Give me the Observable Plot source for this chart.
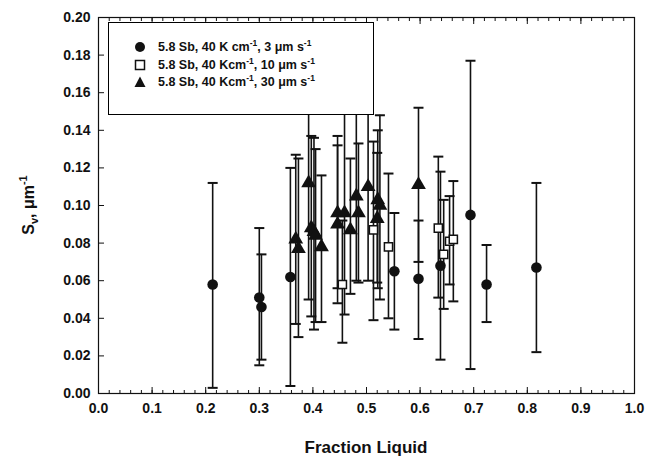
<!DOCTYPE html>
<html>
<head>
<meta charset="utf-8">
<script src="https://cdn.jsdelivr.net/npm/d3@7"></script>
<script src="https://cdn.jsdelivr.net/npm/@observablehq/plot@0.6"></script>
<style>
  html, body { margin: 0; padding: 0; background: #fff; }
  #wrap { position: relative; width: 648px; height: 458px; font-family: "Liberation Sans", Arial, sans-serif; }
  #legend { position: absolute; left: 108px; top: 22px; width: 266px; height: 93px; border: 1px solid #000; background: #fff; box-sizing: border-box; }
  .row { position: absolute; left: 0; height: 16px; display: flex; align-items: center; font-weight: bold; font-size: 12.5px; color: #111; white-space: nowrap; }
  .row svg { margin-left: 25px; margin-right: 12px; }
  sup { font-size: 8.5px; vertical-align: 5px; line-height: 0; }
</style>
</head>
<body>
<div id="wrap">
  <div id="chart"></div>
  <div id="legend"></div>
</div>
<script>
// [fraction liquid, Sv, lower error, upper error]
const series3um = [
  [0.213, 0.058, 0.003, 0.112],
  [0.300, 0.051, 0.015, 0.088],
  [0.304, 0.046, 0.018, 0.074],
  [0.358, 0.062, 0.004, 0.120],
  [0.552, 0.065, 0.034, 0.096],
  [0.597, 0.061, 0.029, 0.092],
  [0.638, 0.068, 0.018, 0.118],
  [0.694, 0.095, 0.013, 0.177],
  [0.724, 0.058, 0.038, 0.079],
  [0.817, 0.067, 0.022, 0.112]
];
const series10um = [
  [0.455, 0.058, 0.027, 0.092],
  [0.513, 0.087, 0.039, 0.134],
  [0.541, 0.078, 0.040, 0.117],
  [0.634, 0.088, 0.051, 0.126],
  [0.644, 0.074, 0.045, 0.103],
  [0.655, 0.081, 0.058, 0.105],
  [0.662, 0.082, 0.049, 0.113]
];
const series30um = [
  [0.368, 0.082, 0.037, 0.127],
  [0.373, 0.077, 0.030, 0.125],
  [0.392, 0.112, 0.050, 0.160],
  [0.397, 0.088, 0.041, 0.137],
  [0.402, 0.086, 0.034, 0.136],
  [0.405, 0.084, 0.038, 0.130],
  [0.416, 0.078, 0.038, 0.116],
  [0.446, 0.096, 0.056, 0.137],
  [0.446, 0.090, 0.048, 0.132],
  [0.459, 0.096, 0.042, 0.160],
  [0.470, 0.087, 0.053, 0.125],
  [0.481, 0.105, 0.060, 0.160],
  [0.485, 0.096, 0.059, 0.133],
  [0.503, 0.110, 0.060, 0.160],
  [0.520, 0.093, 0.059, 0.128],
  [0.521, 0.103, 0.056, 0.140],
  [0.525, 0.100, 0.050, 0.148],
  [0.597, 0.111, 0.070, 0.152]
];
const legendLabels = [
  "5.8 Sb, 40 K cm<sup>-1</sup>, 3 \u03bcm s<sup>-1</sup>",
  "5.8 Sb, 40 Kcm<sup>-1</sup>, 10 \u03bcm s<sup>-1</sup>",
  "5.8 Sb, 40 Kcm<sup>-1</sup>, 30 \u03bcm s<sup>-1</sup>"
];
const xTicks = [0, 0.1, 0.2, 0.3, 0.4, 0.5, 0.6, 0.7, 0.8, 0.9, 1.0];
const yTicks = [0, 0.02, 0.04, 0.06, 0.08, 0.10, 0.12, 0.14, 0.16, 0.18, 0.20];

const toRows = (arr, s) => arr.map(([x, y, lo, hi]) => ({x, y, lo, hi, s}));
const all = [...toRows(series3um, 0), ...toRows(series10um, 1), ...toRows(series30um, 2)];

const capSymbol = { draw(ctx, size) { const r = Math.sqrt(size / Math.PI); ctx.moveTo(-r, 0); ctx.lineTo(r, 0); } };
const minorX = d3.range(0, 1.0001, 0.02);

const font = "'Liberation Sans', Arial, sans-serif";
const plot = Plot.plot({
  width: 648,
  height: 458,
  marginLeft: 98,
  marginRight: 14,
  marginTop: 17,
  marginBottom: 65,
  style: { fontFamily: font, fontWeight: "bold", fontSize: "14px", color: "#111", background: "#fff" },
  x: { domain: [0, 1] },
  y: { domain: [0, 0.2] },
  marks: [
    Plot.ruleX(all, { x: "x", y1: "lo", y2: "hi", stroke: "#111", strokeWidth: 1.6 }),
    Plot.dot(all, { x: "x", y: "lo", symbol: capSymbol, r: 5, stroke: "#111", strokeWidth: 2 }),
    Plot.dot(all, { x: "x", y: "hi", symbol: capSymbol, r: 5, stroke: "#111", strokeWidth: 2 }),
    Plot.dot(all.filter(d => d.s === 0), { x: "x", y: "y", symbol: "circle", r: 5.3, fill: "#111", stroke: "none" }),
    Plot.dot(all.filter(d => d.s === 1), { x: "x", y: "y", symbol: "square", r: 4.6, fill: "#fff", stroke: "#111", strokeWidth: 1.5 }),
    Plot.dot(all.filter(d => d.s === 2), { x: "x", y: "y", symbol: "triangle", r: 5.5, fill: "#111", stroke: "none" }),
    Plot.frame({ stroke: "#111", strokeWidth: 1.2 }),
    Plot.axisX({ anchor: "bottom", ticks: minorX, tickSize: -3, text: null, label: null, stroke: "#111" }),
    Plot.axisX({ anchor: "top", ticks: minorX, tickSize: -3, text: null, label: null, stroke: "#111" }),
    Plot.axisX({ anchor: "bottom", ticks: xTicks, tickSize: -6, text: null, label: null, stroke: "#111" }),
    Plot.axisX({ anchor: "top", ticks: xTicks, tickSize: -6, text: null, label: null, stroke: "#111" }),
    Plot.axisX({ anchor: "bottom", ticks: xTicks, tickSize: 0, tickPadding: 10, tickFormat: d3.format(".1f"), label: null, fill: "#111" }),
    Plot.axisY({ anchor: "left", ticks: yTicks, tickSize: -6, text: null, label: null, stroke: "#111" }),
    Plot.axisY({ anchor: "left", ticks: yTicks, tickSize: 0, tickPadding: 8, tickFormat: d3.format(".2f"), label: null, fill: "#111" })
  ]
});
document.getElementById("chart").appendChild(plot);

const svg = d3.select(plot);
svg.append("text")
  .attr("x", 366).attr("y", 453)
  .attr("text-anchor", "middle")
  .attr("font-size", 17).attr("font-weight", "bold").attr("fill", "#111")
  .text("Fraction Liquid");
const yt = svg.append("text")
  .attr("transform", "translate(34,205) rotate(-90)")
  .attr("text-anchor", "middle")
  .attr("font-size", 16).attr("font-weight", "bold").attr("fill", "#111");
yt.append("tspan").text("S");
yt.append("tspan").attr("font-size", 11).attr("dy", 4).text("v");
yt.append("tspan").attr("dy", -4).text(", \u03bcm");
yt.append("tspan").attr("font-size", 11).attr("dy", -7).text("-1");

// legend
const legend = document.getElementById("legend");
const rowTops = [16, 34, 51];
const symbols = [
  '<svg width="12" height="12"><circle cx="6" cy="6" r="5" fill="#111"/></svg>',
  '<svg width="12" height="12"><rect x="1.5" y="1.5" width="9" height="9" fill="#fff" stroke="#111" stroke-width="1.5"/></svg>',
  '<svg width="12" height="12"><path d="M6,0.5 L11.5,11 L0.5,11 Z" fill="#111"/></svg>'
];
legendLabels.forEach((lab, i) => {
  const div = document.createElement("div");
  div.className = "row";
  div.style.top = rowTops[i] + "px";
  div.innerHTML = symbols[i] + "<span>" + lab + "</span>";
  legend.appendChild(div);
});
</script>
</body>
</html>
